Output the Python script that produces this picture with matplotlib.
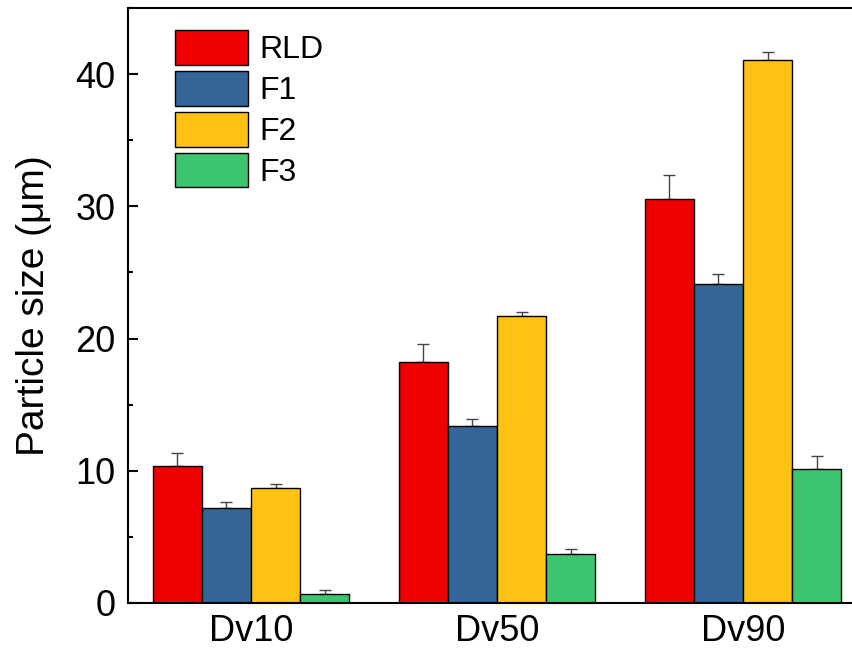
import numpy as np
import matplotlib
matplotlib.use('Agg')
import matplotlib.pyplot as plt
from matplotlib.ticker import MultipleLocator

plt.rcParams['font.family'] = ['Liberation Sans', 'DejaVu Sans']

# ── Data ───────────────────────────────────────────────────────────────────
groups = ['Dv10', 'Dv50', 'Dv90']
series = ['RLD', 'F1', 'F2', 'F3']
rld = [10.33, 18.23, 30.58]
f1 = [7.22, 13.36, 24.09]
f2 = [8.71, 21.74, 41.08]
f3 = [0.71, 3.69, 10.13]
rld_err = [1.0, 1.34, 1.8]
f1_err = [0.45, 0.58, 0.8]
f2_err = [0.3, 0.28, 0.56]
f3_err = [0.27, 0.4, 0.95]

values = [rld, f1, f2, f3]
errors = [rld_err, f1_err, f2_err, f3_err]
colors = ['#EE0000', '#346699', '#FFC214', '#3CC46E']

# ── Plot ───────────────────────────────────────────────────────────────────
fig = plt.figure(figsize=(8.53, 6.52), dpi=100)
ax = fig.add_axes([0.150, 0.0752, 0.8488, 0.9125])

x = np.arange(len(groups))
w = 0.2
for i, (name, vals, errs, c) in enumerate(zip(series, values, errors, colors)):
    pos = x + (i - 1.5) * w
    ax.bar(pos, vals, width=w, color=c, edgecolor='black', linewidth=1.0,
           label=name, zorder=2)
    ax.errorbar(pos, vals, yerr=[np.zeros(len(errs)), errs], fmt='none',
                ecolor='#444444', elinewidth=1.0, capsize=4.3, capthick=1.0,
                zorder=1)

ax.set_xlim(-0.5, 2.443)
ax.set_ylim(0, 45)
ax.set_xticks(x)
ax.set_xticklabels(groups)
ax.yaxis.set_major_locator(MultipleLocator(10))
ax.yaxis.set_minor_locator(MultipleLocator(5))
ax.tick_params(axis='y', which='major', direction='in', length=7, width=1.5,
               labelsize=26, pad=9)
ax.tick_params(axis='y', which='minor', direction='in', length=3.6, width=1.5)
ax.tick_params(axis='x', length=0, labelsize=26, pad=8)

for s in ['left', 'bottom', 'top']:
    ax.spines[s].set_linewidth(1.5)
ax.spines['right'].set_visible(False)

ax.set_ylabel('Particle size (\u03bcm)', fontsize=28)
ax.yaxis.set_label_coords(-0.105, 0.5)

ax.legend(loc='upper left', bbox_to_anchor=(0.065, 0.963), frameon=False,
          fontsize=23, handlelength=2.3, handleheight=1.3, labelspacing=0.18,
          handletextpad=0.35, borderpad=0, borderaxespad=0)

fig.savefig('out.png', dpi=100)
